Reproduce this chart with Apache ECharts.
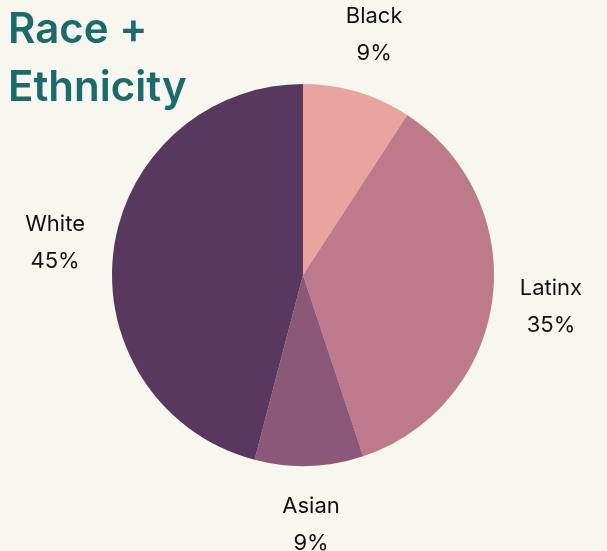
<!DOCTYPE html>
<html>
<head>
<meta charset="utf-8">
<script src="https://cdn.jsdelivr.net/npm/echarts@6/dist/echarts.min.js"></script>
<style>
  html, body { margin: 0; padding: 0; background: #f8f7ef; }
  #pie { width: 607px; height: 551px; }
</style>
</head>
<body>
<div id="pie"></div>
<script>
  // slices, clockwise from 12 o'clock
  const groups = ['Black', 'Latinx', 'Asian', 'White'];
  const shares = [9, 35, 9, 45];
  const sliceColors = ['#e8a5a0', '#bd7a8a', '#8b5878', '#58385e'];

  let chart = echarts.init(document.getElementById('pie'));
  let font = 'Inter, "Open Sans", sans-serif';

  let option = {
    backgroundColor: '#f8f7ef',
    title: {
      text: 'Race +\nEthnicity',
      left: 3,
      top: -4,
      textStyle: {
        color: '#1c6a6c',
        fontFamily: font,
        fontWeight: 600,
        fontSize: 42,
        lineHeight: 58
      }
    },
    series: [
      {
        type: 'pie',
        center: [303, 275],
        radius: 191,
        startAngle: 90,
        clockwise: true,
        silent: true,
        label: { show: false },
        labelLine: { show: false },
        data: groups.map((g, i) => ({
          name: g,
          value: shares[i],
          itemStyle: { color: sliceColors[i] }
        }))
      },
      {
        // invisible ring, only used to place the labels along each slice's mid-angle
        type: 'pie',
        center: [303, 275],
        radius: [191, 303],
        startAngle: 90,
        clockwise: true,
        silent: true,
        itemStyle: { color: 'rgba(0,0,0,0)' },
        label: {
          show: true,
          position: 'inside',
          color: '#111',
          fontFamily: font,
          fontSize: 22,
          lineHeight: 37,
          align: 'center',
          formatter: p => p.name + '\n' + p.value + '%'
        },
        labelLine: { show: false },
        data: groups.map((g, i) => ({ name: g, value: shares[i] }))
      }
    ]
  };
  chart.setOption(option);
</script>
</body>
</html>
